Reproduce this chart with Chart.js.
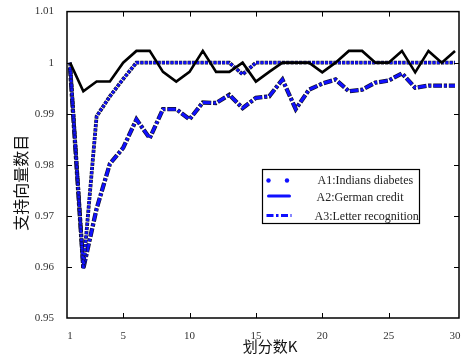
<!DOCTYPE html>
<html><head><meta charset="utf-8">
<script src="https://cdn.jsdelivr.net/npm/chart.js@4/dist/chart.umd.min.js"></script>
<style>html,body{margin:0;padding:0;background:#fff;overflow:hidden}</style>
</head><body>
<canvas id="c" width="474" height="358"></canvas>
<script>
// ---- data ----
const kValues = [1,2,3,4,5,6,7,8,9,10,11,12,13,14,15,16,17,18,19,20,21,22,23,24,25,26,27,28,29,30];
const a1Indians = [1.0,0.9597,0.9895,0.9934,0.9968,1.0,1.0,1.0,1.0,1.0,1.0,1.0,1.0,0.9977,1.0,1.0,1.0,1.0,1.0,1.0,1.0,1.0,1.0,1.0,1.0,1.0,1.0,1.0,1.0,1.0];
const a2German = [1.0,0.9944,0.9963,0.9963,1.0,1.0023,1.0023,0.9982,0.9963,0.9982,1.0023,0.9982,0.9982,1.0,0.9963,0.9982,1.0,1.0,1.0,0.9981,1.0,1.0023,1.0023,1.0,1.0,1.0023,0.9981,1.0023,1.0,1.0023];
const a3Letter = [0.999,0.9597,0.9714,0.9802,0.9833,0.9889,0.9852,0.9909,0.9909,0.9889,0.9922,0.9921,0.9937,0.9911,0.9931,0.9934,0.9967,0.9909,0.9947,0.9959,0.9967,0.9944,0.9947,0.9961,0.9965,0.9979,0.9951,0.9955,0.9955,0.9955];
const seriesNames = ['A1:Indians diabetes','A2:German credit','A3:Letter recognition'];
const xTicks = [1,5,10,15,20,25,30];
const xTickLabels = ['1','5','10','15','20','25','30'];
const yTicks = [0.95,0.96,0.97,0.98,0.99,1.0,1.01];
const yTickLabels = ['0.95','0.96','0.97','0.98','0.99','1','1.01'];
const xTitle = '划分数K';
const yTitle = '支持向量数目';

const BLUE = '#1010ff';
const EDGE = '#10102a';
const serif = '"Liberation Serif", "Times New Roman", serif';
const cjk = '"Noto Sans CJK SC", sans-serif';

function pts(vals){ return kValues.map((k,i)=>({x:k,y:vals[i]})); }

const framePlugin = {
  id:'frame',
  afterDraw(chart){
    const ctx = chart.ctx, a = chart.chartArea;
    const xs = chart.scales.x, ys = chart.scales.y;
    ctx.save();
    ctx.strokeStyle = '#000';
    ctx.lineWidth = 1.5;
    ctx.strokeRect(a.left, a.top, a.right-a.left, a.bottom-a.top);
    ctx.lineWidth = 1;
    ctx.beginPath();
    xTicks.forEach(v=>{
      if (v===xTicks[0] || v===xTicks[xTicks.length-1]) return;
      const p = Math.round(xs.getPixelForValue(v))+0.5;
      ctx.moveTo(p,a.bottom); ctx.lineTo(p,a.bottom-5);
      ctx.moveTo(p,a.top); ctx.lineTo(p,a.top+5);
    });
    yTicks.forEach(v=>{
      if (v===yTicks[0] || v===yTicks[yTicks.length-1]) return;
      const p = Math.round(ys.getPixelForValue(v))+0.5;
      ctx.moveTo(a.left,p); ctx.lineTo(a.left+5,p);
      ctx.moveTo(a.right,p); ctx.lineTo(a.right-5,p);
    });
    ctx.stroke();
    // axis titles
    ctx.fillStyle = '#111';
    ctx.font = '15px ' + cjk;
    ctx.textAlign = 'center';
    ctx.textBaseline = 'middle';
    ctx.fillText(xTitle, (a.left+a.right)/2 + 7, a.bottom + 28);
    ctx.translate(21, (a.top+a.bottom)/2 + 18);
    ctx.rotate(-Math.PI/2);
    ctx.font = '16px ' + cjk;
    ctx.fillText(yTitle, 0, 0);
    ctx.restore();

    // legend
    const w = a.right - a.left, h = a.bottom - a.top;
    const bx = Math.round(a.left + w*0.4985)+0.5, by = Math.round(a.top + h*0.515)+0.5;
    const bw = 157, bh = 54;
    ctx.save();
    ctx.fillStyle = '#fff';
    ctx.fillRect(bx, by, bw, bh);
    ctx.strokeStyle = '#000'; ctx.lineWidth = 1.2;
    ctx.strokeRect(bx, by, bw, bh);
    const rows = [by+11, by+28, by+47];
    ctx.fillStyle = BLUE;
    [6, 24.5].forEach(dx=>{ ctx.beginPath(); ctx.arc(bx+dx, rows[0], 2.2, 0, Math.PI*2); ctx.fill(); });
    ctx.strokeStyle = BLUE; ctx.lineWidth = 3; ctx.lineCap='round';
    ctx.beginPath(); ctx.moveTo(bx+6, rows[1]-1.5); ctx.lineTo(bx+27, rows[1]-1.5); ctx.stroke();
    ctx.lineCap='butt'; ctx.lineWidth = 3.2; ctx.setLineDash([7,2.5,2.5,2.5]);
    ctx.beginPath(); ctx.moveTo(bx+4, rows[2]-1); ctx.lineTo(bx+29, rows[2]-1); ctx.stroke();
    ctx.setLineDash([]);
    ctx.fillStyle = '#222'; ctx.font = '12px ' + serif; ctx.textAlign='left'; ctx.textBaseline='middle';
    ctx.fillText(seriesNames[0], bx+55, rows[0]);
    ctx.fillText(seriesNames[1], bx+54, rows[1]);
    ctx.fillText(seriesNames[2], bx+52, rows[2]);
    ctx.restore();
  }
};

const common = {pointRadius:0, tension:0, fill:false};
new Chart(document.getElementById('c'), {
  type:'line',
  data:{
    datasets:[
      Object.assign({label:seriesNames[1], data:pts(a2German), borderColor:'#000', borderWidth:2.6, borderJoinStyle:'miter'}, common),
      Object.assign({label:seriesNames[0], data:pts(a1Indians), borderColor:BLUE, borderWidth:2.6, borderDash:[2.6,1.7]}, common),
      Object.assign({label:seriesNames[0]+' edge', data:pts(a1Indians), borderColor:EDGE, borderWidth:3.8, borderDash:[3.3,1.0], borderDashOffset:0.35}, common),
      Object.assign({label:seriesNames[2], data:pts(a3Letter), borderColor:BLUE, borderWidth:3.0, borderDash:[8,2.6,2.4,2.6]}, common),
      Object.assign({label:seriesNames[2]+' edge', data:pts(a3Letter), borderColor:EDGE, borderWidth:4.3, borderDash:[8.8,1.8,3.2,1.8], borderDashOffset:0.4}, common)
    ]
  },
  options:{
    responsive:false, animation:false, devicePixelRatio:1,
    layout:{padding:{top:10,right:15,bottom:0,left:0}},
    plugins:{legend:{display:false}, tooltip:{enabled:false}},
    scales:{
      x:{type:'linear', min:0.77, max:30.3,
        afterBuildTicks:s=>{ s.ticks = xTicks.map(v=>({value:v})); },
        afterFit:s=>{ s.height = 40; },
        grid:{display:false}, border:{display:false},
        ticks:{autoSkip:false, maxRotation:0, padding:4, color:'#333', font:{family:serif,size:11},
          callback:(v)=>{ const i = xTicks.indexOf(v); return i>=0 ? xTickLabels[i] : ''; }}
      },
      y:{type:'linear', min:0.95, max:1.01,
        afterBuildTicks:s=>{ s.ticks = yTicks.map(v=>({value:v})); },
        afterFit:s=>{ s.width = 67; },
        grid:{display:false}, border:{display:false},
        ticks:{padding:5, color:'#333', font:{family:serif,size:11},
          callback:(v)=>{ const i = yTicks.findIndex(t=>Math.abs(t-v)<1e-9); return i>=0 ? yTickLabels[i] : ''; }}
      }
    }
  },
  plugins:[framePlugin]
});
</script>
</body></html>
